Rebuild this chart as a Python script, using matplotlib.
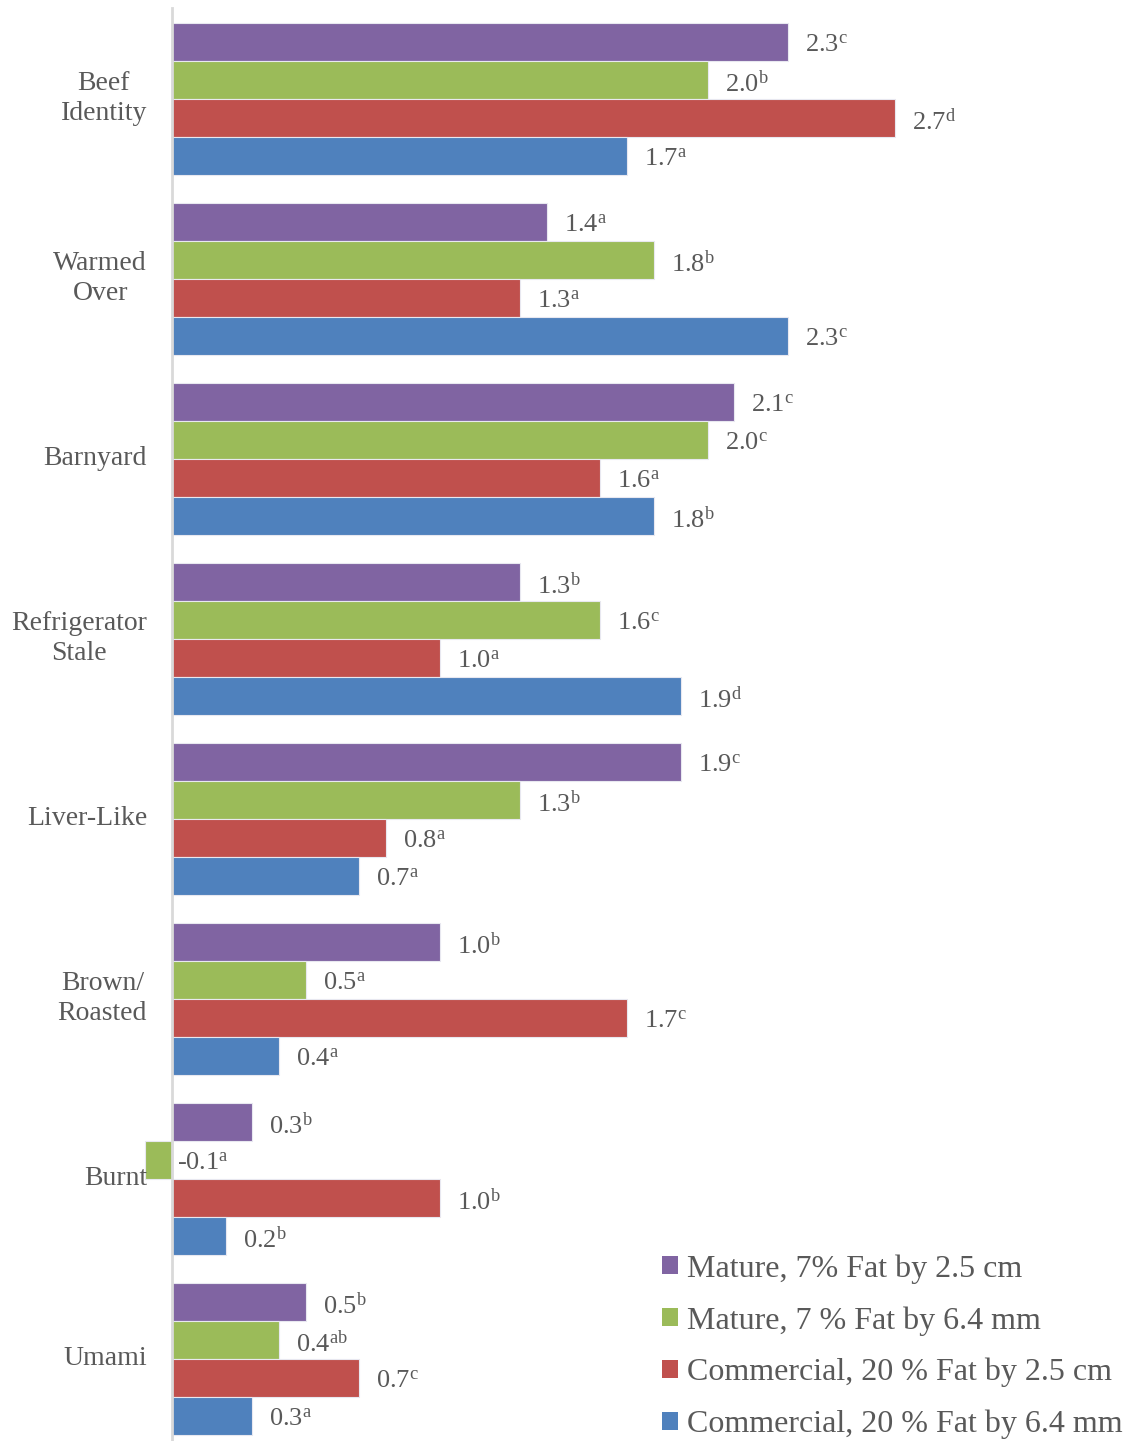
import matplotlib
matplotlib.use("Agg")
import matplotlib.pyplot as plt
import numpy as np
from matplotlib.patches import Patch

plt.rcParams['font.family'] = ['Liberation Serif', 'DejaVu Serif']
plt.rcParams['mathtext.fontset'] = 'custom'
plt.rcParams['mathtext.rm'] = 'Liberation Serif'
plt.rcParams['mathtext.it'] = 'Liberation Serif:italic'

categories = ["Beef\nIdentity", "Warmed\nOver", "Barnyard", "Refrigerator\nStale",
              "Liver-Like", "Brown/\nRoasted", "Burnt", "Umami"]
series_names = ["Mature, 7% Fat by 2.5 cm", "Mature, 7 % Fat by 6.4 mm",
                "Commercial, 20 % Fat by 2.5 cm", "Commercial, 20 % Fat by 6.4 mm"]
mature_25cm = [2.3, 1.4, 2.1, 1.3, 1.9, 1.0, 0.3, 0.5]
mature_64mm = [2.0, 1.8, 2.0, 1.6, 1.3, 0.5, -0.1, 0.4]
comm_25cm = [2.7, 1.3, 1.6, 1.0, 0.8, 1.7, 1.0, 0.7]
comm_64mm = [1.7, 2.3, 1.8, 1.9, 0.7, 0.4, 0.2, 0.3]
letters_m25 = ["c", "a", "c", "b", "c", "b", "b", "b"]
letters_m64 = ["b", "b", "c", "c", "b", "a", "a", "ab"]
letters_c25 = ["d", "a", "a", "a", "a", "c", "b", "c"]
letters_c64 = ["a", "c", "b", "d", "a", "a", "b", "a"]

series = [mature_25cm, mature_64mm, comm_25cm, comm_64mm]
letters = [letters_m25, letters_m64, letters_c25, letters_c64]
colors = ["#8064A2", "#9BBB59", "#C0504D", "#4F81BD"]
text_color = "#595959"

W, H = 1132, 1441
fig = plt.figure(figsize=(W / 100, H / 100), dpi=100)
ax = fig.add_axes([0, 0, 1, 1])

px_per_unit = 267.8
pitch = 180.0
first_center = 98.5
ax.set_xlim(-172 / px_per_unit, (W - 172) / px_per_unit)
ax.set_ylim((H - first_center) / pitch, -first_center / pitch)

bh = 38 / pitch
y = np.arange(len(categories))
for k, (vals, labs, col) in enumerate(zip(series, letters, colors)):
    yy = y + (k - 1.5) * bh
    ax.barh(yy, vals, height=bh, color=col, edgecolor="#e8e8f0", linewidth=0.8,
            label=series_names[k], zorder=2)
    for yi, v, l in zip(yy, vals, labs):
        x = max(v, 0) + 17 / px_per_unit if v >= 0 else 5 / px_per_unit
        ax.text(x, yi + 4 / pitch, f"{v:.1f}" + r"$^{\mathrm{" + l + "}}$", va="center", ha="left",
                fontsize=19, color=text_color)

for yi, c in zip(y, categories):
    ax.text(-25 / px_per_unit, yi, c, ha="right", va="center", multialignment="center",
            fontsize=20, color=text_color, linespacing=1.3)

for s in ["top", "right", "bottom"]:
    ax.spines[s].set_visible(False)
ax.spines["left"].set_position(("data", 0))
ax.spines["left"].set_color("#d9d9d9")
ax.spines["left"].set_linewidth(2)
ax.spines["left"].set_bounds((H) / pitch, -(first_center - 8) / pitch)
ax.set_xticks([])
ax.set_yticks([])
ax.spines["left"].set_zorder(3)

handles = [Patch(facecolor=c, edgecolor="none") for c in colors]
leg = fig.legend(handles, series_names, loc="lower left", bbox_to_anchor=(633 / W, -27 / H),
                 frameon=False, fontsize=23, handlelength=0.5, handleheight=0.5,
                 handletextpad=0.3, labelspacing=0.7)
for t in leg.get_texts():
    t.set_color(text_color)

fig.savefig("out.png", dpi=100)
